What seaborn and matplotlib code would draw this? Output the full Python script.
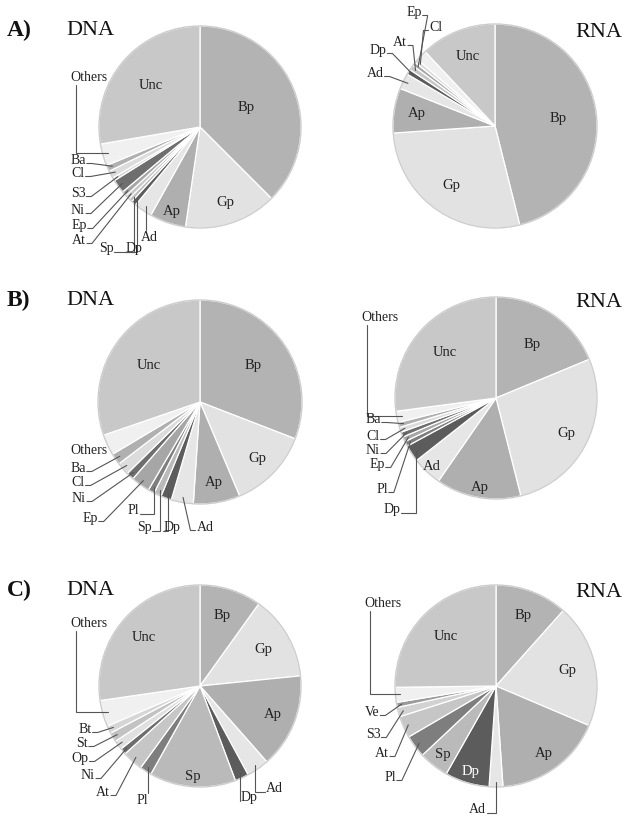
import matplotlib
matplotlib.use("Agg")
import matplotlib.pyplot as plt
import seaborn as sns
import numpy as np

sns.set_theme(style="white")
plt.rcParams['font.family'] = ['Liberation Serif', 'DejaVu Serif']

W, H = 631, 821

# ---------------- data (percent of reads) ----------------
a_dna_labels = ["Bp", "Gp", "Ap", "Ad", "Dp", "Sp", "At", "Ep", "Ni", "S3", "Cl", "Ba", "Others", "Unc"]
a_dna_values = [37.5, 14.8, 5.8, 2.9, 0.8, 0.6, 0.7, 0.8, 2.2, 0.5, 1.2, 1.0, 3.5, 27.7]

a_rna_labels = ["Bp", "Gp", "Ap", "Ad", "Dp", "At", "Ep", "Cl", "Others", "Unc"]
a_rna_values = [46.1, 27.8, 7.1, 2.5, 0.8, 0.8, 0.6, 0.6, 1.7, 12.0]

b_dna_labels = ["Bp", "Gp", "Ap", "Ad", "Dp", "Sp", "Pl", "Ep", "Ni", "Cl", "Ba", "Others", "Unc"]
b_dna_values = [30.9, 12.8, 7.4, 3.5, 1.7, 1.2, 1.0, 3.0, 1.2, 2.0, 1.8, 3.3, 30.3]

b_rna_labels = ["Bp", "Gp", "Ap", "Ad", "Dp", "Pl", "Ep", "Ni", "Cl", "Ba", "Others", "Unc"]
b_rna_values = [18.75, 27.3, 13.6, 4.75, 2.7, 0.8, 0.8, 0.8, 0.8, 0.8, 1.8, 27.1]

c_dna_labels = ["Bp", "Gp", "Ap", "Ad", "Dp", "Sp", "Pl", "At", "Ni", "Op", "St", "Bt", "Others", "Unc"]
c_dna_values = [9.9, 13.5, 15.1, 3.6, 2.2, 13.8, 1.9, 3.3, 1.0, 1.5, 1.5, 1.2, 4.2, 27.3]

c_rna_labels = ["Bp", "Gp", "Ap", "Ad", "Dp", "Sp", "Pl", "At", "S3", "Ve", "Others", "Unc"]
c_rna_values = [11.6, 19.8, 17.5, 2.2, 7.1, 4.8, 3.6, 3.5, 1.5, 0.8, 2.4, 25.2]

row_labels = ["A)", "B)", "C)"]
col_labels = ["DNA", "RNA"]

# ---------------- styling ----------------
gray = {
    "Bp": "#b3b3b3", "Gp": "#e2e2e2", "Ap": "#afafaf", "Ad": "#e6e6e6",
    "Dp": "#5c5c5c", "Sp": "#bababa", "Pl": "#7e7e7e", "At": "#c6c6c6",
    "Ep": "#a6a6a6", "Ni": "#6e6e6e", "S3": "#d2d2d2", "Cl": "#dcdcdc",
    "Ba": "#b0b0b0", "Op": "#e0e0e0", "St": "#c2c2c2", "Bt": "#d6d6d6",
    "Ve": "#9a9a9a", "Others": "#f0f0f0", "Unc": "#c8c8c8",
}

panels = [
    dict(labels=a_dna_labels, values=a_dna_values, center=(200, 127), r=101,
         inner={"Bp": 0.5, "Gp": 0.79, "Ap": 0.88, "Unc": 0.64},
         outer=[("Others", 89, 77, "L"), ("Ba", 78, 160, "h"), ("Cl", 78, 173, "h"),
                ("S3", 78, 193, "h"), ("Ni", 78, 210, "h"), ("Ep", 79, 225, "h"),
                ("At", 79, 240, "h"), ("Sp", 106, 248, "vr"), ("Dp", 134, 248, "vl"),
                ("Ad", 149, 237, "up")]),
    dict(labels=a_rna_labels, values=a_rna_values, center=(495, 126), r=102,
         inner={"Bp": 0.62, "Gp": 0.72, "Ap": 0.78, "Unc": 0.73},
         outer=[("Ep", 414, 12, "h"), ("Cl", 436, 27, "hl"), ("At", 400, 42, "h"),
                ("Dp", 378, 50, "h"), ("Ad", 375, 73, "h")]),
    dict(labels=b_dna_labels, values=b_dna_values, center=(200, 402), r=102,
         inner={"Bp": 0.63, "Gp": 0.79, "Ap": 0.8, "Unc": 0.62},
         outer=[("Others", 89, 450, None), ("Ba", 78, 468, "h"), ("Cl", 78, 482, "h"),
                ("Ni", 79, 498, "h"), ("Ep", 90, 518, "h"), ("Pl", 133, 510, "vr"),
                ("Sp", 144, 527, "vr"), ("Dp", 172, 527, "vl"), ("Ad", 205, 527, "hl")]),
    dict(labels=b_rna_labels, values=b_rna_values, center=(496, 398), r=101,
         inner={"Bp": 0.64, "Gp": 0.78, "Ap": 0.9, "Ad": 0.93, "Unc": 0.68},
         outer=[("Others", 380, 317, "L"), ("Ba", 373, 419, "h"), ("Cl", 373, 436, "h"),
                ("Ni", 373, 450, "h"), ("Ep", 377, 464, "h"), ("Pl", 382, 489, "h"),
                ("Dp", 392, 509, "vr")]),
    dict(labels=c_dna_labels, values=c_dna_values, center=(200, 686), r=101,
         inner={"Bp": 0.73, "Gp": 0.72, "Ap": 0.77, "Sp": 0.9, "Unc": 0.74},
         outer=[("Others", 89, 623, "L"), ("Bt", 85, 729, "h"), ("St", 82, 743, "h"),
                ("Op", 80, 758, "h"), ("Ni", 88, 775, "h"), ("At", 103, 792, "h"),
                ("Pl", 142, 800, "up"), ("Dp", 249, 797, "vl"), ("Ad", 274, 788, "vl")]),
    dict(labels=c_rna_labels, values=c_rna_values, center=(496, 686), r=101,
         inner={"Bp": 0.75, "Gp": 0.72, "Ap": 0.82, "Dp": 0.88, "Sp": 0.86, "Unc": 0.7},
         outer=[("Others", 383, 603, "L"), ("Ve", 372, 712, "h"), ("S3", 373, 734, "h"),
                ("At", 382, 753, "h"), ("Pl", 390, 777, "h"), ("Ad", 477, 809, "vr")]),
]

fig = plt.figure(figsize=(W / 100, H / 100), dpi=100)
ax = fig.add_axes([0, 0, 1, 1])

pending = []
for p in panels:
    cx, cy = p["center"]
    cy = H - cy
    r = p["r"]
    cols = [gray[l] for l in p["labels"]]
    wedges, _ = ax.pie(p["values"], colors=cols, startangle=90, counterclock=False,
                       center=(cx, cy), radius=r, frame=True,
                       wedgeprops=dict(edgecolor="white", linewidth=0.9))
    ax.add_patch(plt.Circle((cx, cy), r, fill=False, edgecolor="#cdcdcd", linewidth=1.0))
    mids = {}
    for lab, w in zip(p["labels"], wedges):
        mids[lab] = np.deg2rad((w.theta1 + w.theta2) / 2)
    for lab, rho in p["inner"].items():
        a = mids[lab]
        ax.text(cx + rho * r * np.cos(a), cy + rho * r * np.sin(a), lab,
                ha="center", va="center", fontsize=10.5,
                color="white" if lab == "Dp" else "#222222")
    for lab, tx, ty, style in p["outer"]:
        t = ax.text(tx, H - ty, lab, ha="center", va="center", fontsize=10, color="#222222")
        a = mids[lab]
        sx, sy = cx + 0.95 * r * np.cos(a), cy + 0.95 * r * np.sin(a)
        pending.append((t, style, sx, sy))

for i, rl in enumerate(row_labels):
    y = [30, 300, 590][i]
    ax.text(7, H - y, rl, ha="left", va="center", fontsize=17, fontweight="bold", color="#111111")
    ax.text(90, H - y, col_labels[0], ha="center", va="center", fontsize=16, color="#111111")
    ax.text(599, H - y - 2, col_labels[1], ha="center", va="center", fontsize=16, color="#111111")

ax.set_xlim(0, W)
ax.set_ylim(0, H)
ax.set_axis_off()

fig.canvas.draw()
renderer = fig.canvas.get_renderer()
for t, style, sx, sy in pending:
    if style is None:
        continue
    bb = t.get_window_extent(renderer)
    x0, x1, y0, y1 = bb.x0, bb.x1, bb.y0, bb.y1
    yb = y0 + 3
    if style == "h":
        pts = [(x1 + 1, yb), (x1 + 6, yb), (sx, sy)]
    elif style == "hl":
        pts = [(x0 - 1, yb), (x0 - 6, yb), (sx, sy)]
    elif style == "vr":
        pts = [(x1 + 1, yb), (sx, yb), (sx, sy)]
    elif style == "vl":
        pts = [(x0 - 1, yb), (sx, yb), (sx, sy)]
    elif style == "L":
        pts = [(x0 + 6, y0 - 1), (x0 + 6, sy), (sx, sy)]
    else:  # "up"
        pts = [(sx, y1 + 1), (sx, sy)]
    xs, ys = zip(*pts)
    ax.plot(xs, ys, color="#555555", linewidth=0.8, solid_joinstyle="miter")

fig.savefig("out.png", dpi=100, facecolor="white")
